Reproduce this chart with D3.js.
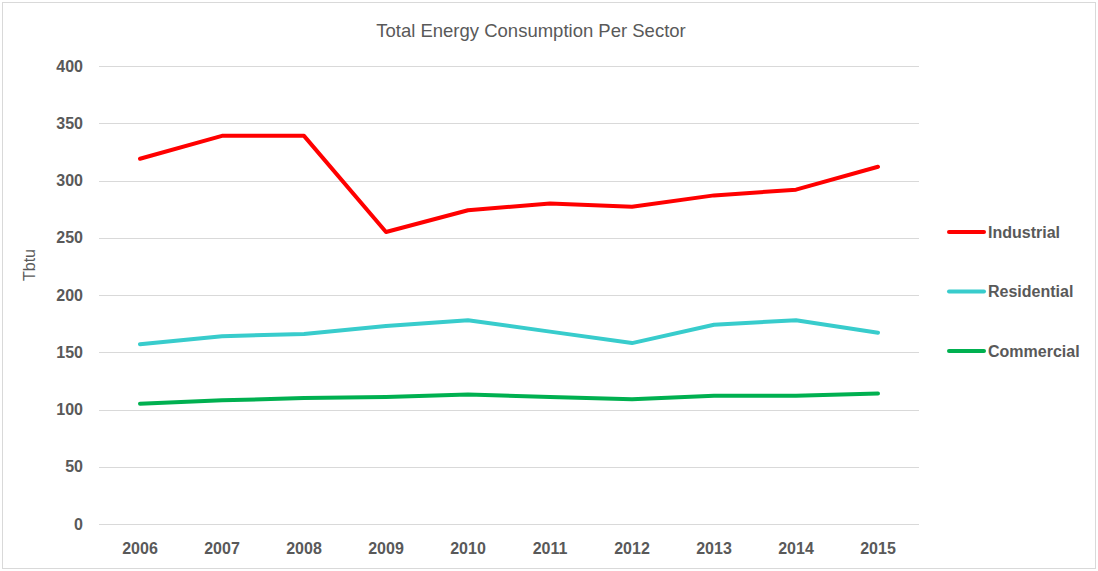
<!DOCTYPE html>
<html>
<head>
<meta charset="utf-8">
<script src="https://cdn.jsdelivr.net/npm/d3@7"></script>
<style>
  body { margin: 0; background: #fff; }
  svg { display: block; }
</style>
</head>
<body>
<svg id="chart" width="1098" height="571"></svg>
<script>
// data
const years = ["2006", "2007", "2008", "2009", "2010", "2011", "2012", "2013", "2014", "2015"];
const industrial = [319, 339, 339, 255, 274, 280, 277, 287, 292, 312];
const residential = [157, 164, 166, 173, 178, 168, 158, 174, 178, 167];
const commercial = [105, 108, 110, 111, 113, 111, 109, 112, 112, 114];
const yTicks = [0, 50, 100, 150, 200, 250, 300, 350, 400];

const series = [
  { name: "Industrial", values: industrial, color: "#ff0000" },
  { name: "Residential", values: residential, color: "#38cccc" },
  { name: "Commercial", values: commercial, color: "#00b050" }
];

const svg = d3.select("#chart");
const W = 1098, H = 571;
const plot = { left: 99, right: 919, top: 66, bottom: 524 };
const font = "'Liberation Sans', Arial, sans-serif";
const textGray = "#595959";

// chart border
svg.append("rect")
  .attr("x", 2.5).attr("y", 2.5)
  .attr("width", W - 5).attr("height", H - 5)
  .attr("fill", "#fff")
  .attr("stroke", "#d9d9d9");

const x = d3.scaleBand().domain(years).range([plot.left, plot.right]);
const y = d3.scaleLinear().domain([0, 400]).range([plot.bottom, plot.top]);

// gridlines
svg.append("g")
  .selectAll("line")
  .data(yTicks)
  .join("line")
  .attr("x1", plot.left).attr("x2", plot.right)
  .attr("y1", d => Math.round(y(d)) + 0.5)
  .attr("y2", d => Math.round(y(d)) + 0.5)
  .attr("stroke", "#d9d9d9")
  .attr("stroke-width", 1);

// y axis labels
const yAxis = svg.append("g")
  .attr("transform", `translate(${plot.left - 16},0)`)
  .call(d3.axisLeft(y).tickValues(yTicks).tickSize(0).tickPadding(0));
yAxis.select(".domain").remove();
yAxis.selectAll("text")
  .attr("font-family", font)
  .attr("font-weight", "bold")
  .attr("font-size", 16)
  .attr("fill", textGray);

// x axis labels
const xAxis = svg.append("g")
  .attr("transform", `translate(0,${plot.bottom + 19})`)
  .call(d3.axisBottom(x).tickSize(0).tickPadding(0));
xAxis.select(".domain").remove();
xAxis.selectAll("text")
  .attr("font-family", font)
  .attr("font-weight", "bold")
  .attr("font-size", 16)
  .attr("fill", textGray);

// lines
const line = d3.line()
  .x((d, i) => x(years[i]) + x.bandwidth() / 2)
  .y(d => y(d));

svg.append("g")
  .selectAll("path")
  .data(series)
  .join("path")
  .attr("d", d => line(d.values))
  .attr("fill", "none")
  .attr("stroke", d => d.color)
  .attr("stroke-width", 4)
  .attr("stroke-linejoin", "round")
  .attr("stroke-linecap", "round");

// title
svg.append("text")
  .attr("x", 531).attr("y", 37)
  .attr("text-anchor", "middle")
  .attr("font-family", font)
  .attr("font-size", 18.5)
  .attr("fill", textGray)
  .text("Total Energy Consumption Per Sector");

// y axis title
svg.append("text")
  .attr("transform", "translate(35,265) rotate(-90)")
  .attr("text-anchor", "middle")
  .attr("font-family", font)
  .attr("font-size", 16)
  .attr("fill", textGray)
  .text("Tbtu");

// legend
const legendY = d3.scalePoint().domain(series.map(d => d.name)).range([232, 351]);
const legend = svg.append("g")
  .selectAll("g")
  .data(series)
  .join("g")
  .attr("transform", d => `translate(949,${legendY(d.name)})`);
legend.append("line")
  .attr("x1", 0).attr("x2", 35)
  .attr("stroke", d => d.color)
  .attr("stroke-width", 4)
  .attr("stroke-linecap", "round");
legend.append("text")
  .attr("x", 39).attr("dy", "0.35em")
  .attr("font-family", font)
  .attr("font-weight", "bold")
  .attr("font-size", 16)
  .attr("fill", textGray)
  .text(d => d.name);
</script>
</body>
</html>
